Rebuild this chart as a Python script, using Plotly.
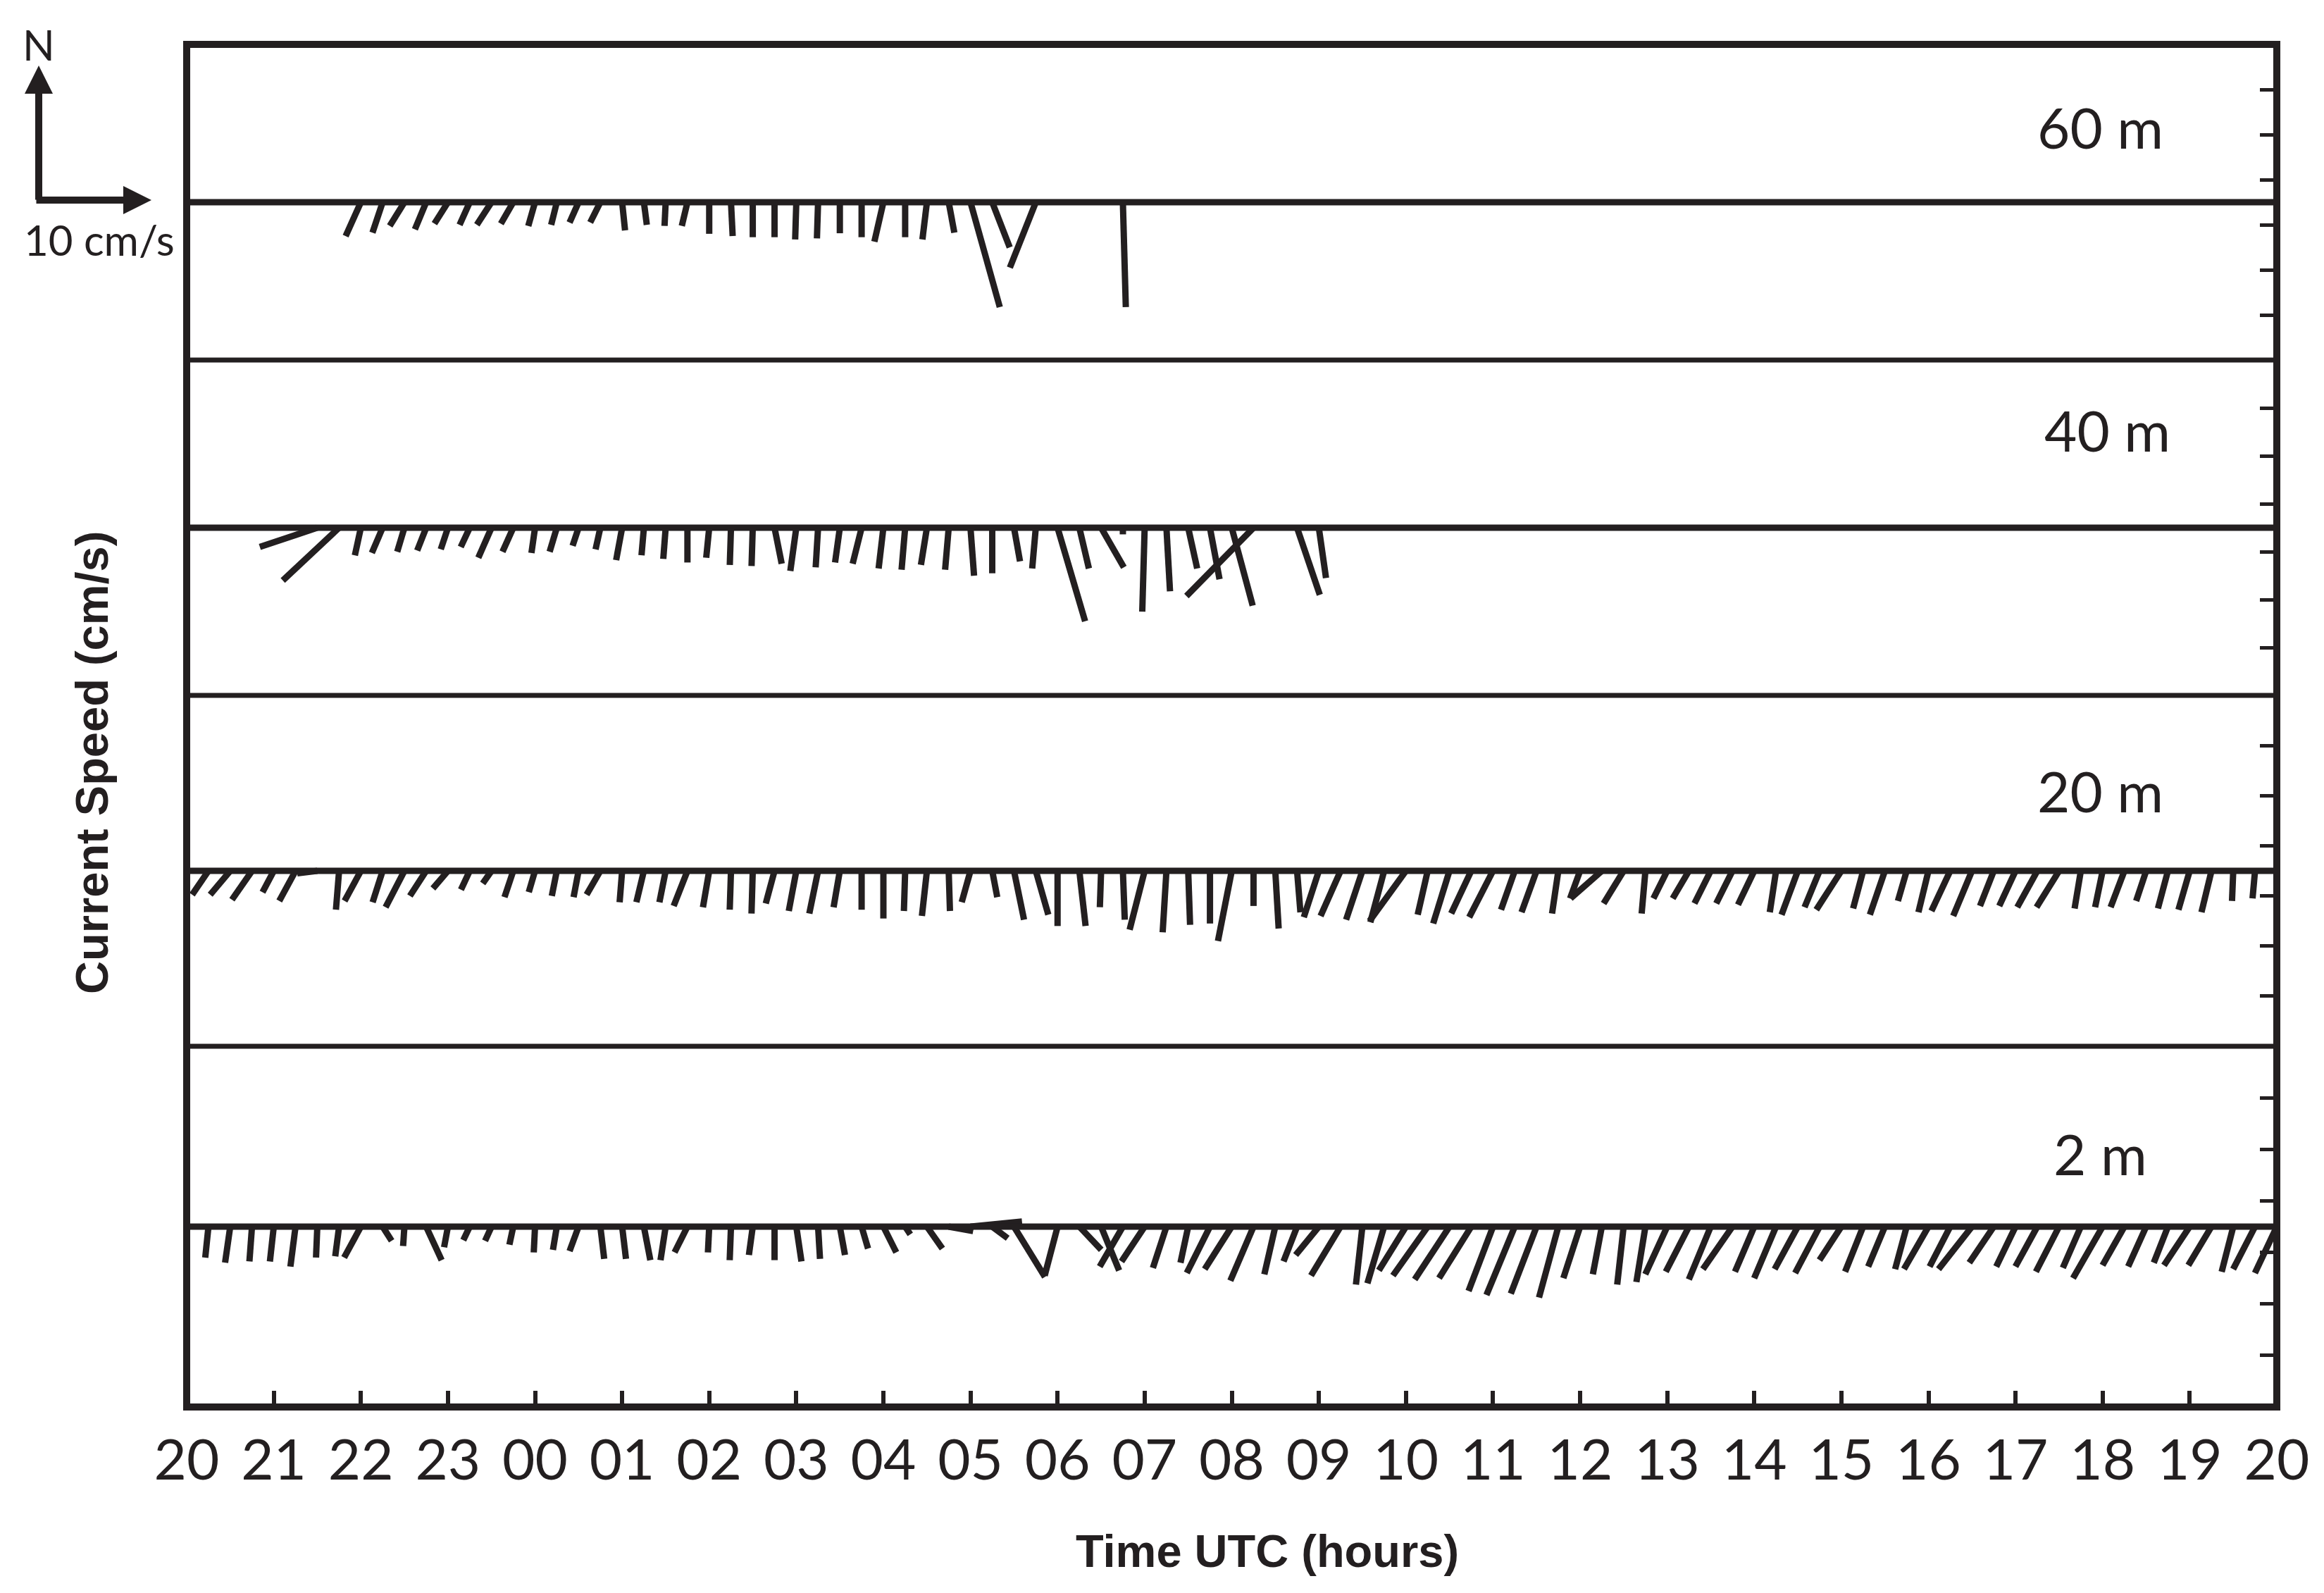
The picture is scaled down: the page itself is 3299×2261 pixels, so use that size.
import plotly.graph_objects as go

# --- Layout constants ---
# reference positions are page pixels; the page body has an 8 px margin
OFF = 8
W, H = 3299 - OFF, 2261 - OFF
ML, MR, MT, MB = 265 - OFF, 67, 63 - OFF, 264
PW, PH = W - ML - MR, H - MT - MB
INK = "#231f20"
FONT = "Lato, Open Sans, sans-serif"
BOLD_FONT = "Liberation Sans, Arial, sans-serif"

# --- Data ---
# time axis: hours after 20:00 UTC, tick labels
hour_ticks = list(range(25))
hour_labels = ["20", "21", "22", "23", "00", "01", "02", "03", "04", "05", "06", "07", "08",
               "09", "10", "11", "12", "13", "14", "15", "16", "17", "18", "19", "20"]
STEP = 0.25  # 15 min sampling

# 60 m  (first sample 22:00)
start_60 = 2.0
u_60 = [-1.35, -0.9, -1.3, -1.0, -1.2, -0.9, -1.3, -1.1, -0.6, -0.5, -0.8, -0.9,
        0.26, 0.26, -0.1, -0.5, 0.0, 0.15, 0.0, 0.0, -0.1, -0.1, 0.0, 0.0,
        -0.8, 0.0, -0.4, 0.5, 2.6, 1.55, None, -2.3, None, None, None, 0.26]
v_60 = [-3.0, -2.7, -2.1, -2.4, -1.9, -2.0, -2.0, -1.9, -2.1, -2.0, -1.8, -1.8,
        -2.5, -2.0, -2.1, -2.1, -2.8, -3.0, -3.1, -3.1, -3.3, -3.2, -2.75, -3.1,
        -3.5, -3.1, -3.3, -2.7, -9.3, -4.0, None, -5.8, None, None, None, -9.3]

# 40 m  (first sample 21:30)
start_40 = 1.5
u_40 = [-4.8, -4.7, -0.5, -0.9, -0.6, -0.75, -0.6, -0.75, -1.1, -0.9, -0.3, -0.6,
        -0.5, -0.4, -0.5, -0.2, -0.2, 0.0, -0.25, -0.1, -0.1, 0.6, -0.5, -0.2,
        -0.4, -0.75, -0.4, -0.3, -0.5, -0.3, 0.3, 0.0, 0.5, -0.3, 2.3, 0.8,
        1.9, 0.0, -0.2, 0.3, 0.75, 0.8, 1.75, -5.6, None, 1.9, 0.6]
v_40 = [-1.6, -4.4, -2.3, -2.1, -2.0, -1.9, -1.8, -1.6, -2.5, -2.0, -2.1, -2.0,
        -1.5, -1.8, -2.7, -2.3, -2.6, -2.9, -2.5, -3.1, -3.2, -3.0, -3.6, -3.3,
        -2.9, -3.0, -3.4, -3.5, -3.1, -3.5, -4.0, -3.8, -2.8, -3.4, -7.8, -3.4,
        -3.3, -0.55, -7.0, -5.3, -3.4, -4.3, -6.5, -5.7, None, -5.6, -4.2]

# 20 m  (first sample 20:00)
start_20 = 0.0
u_20 = [-0.2, -1.3, -1.6, -1.6, -0.9, -1.3, -1.6, -0.25, -1.3, -0.8, -1.5, -1.3,
        -1.2, -0.7, -0.7, -0.7, -0.5, -0.4, -0.4, -1.1, -0.2, -0.6, -0.5, -1.1,
        -0.5, -0.1, -0.1, -0.7, -0.6, -0.7, -0.5, 0.0, 0.0, -0.1, -0.4, 0.1,
        -0.7, 0.4, 0.8, 1.0, 0.0, 0.5, -0.1, 0.15, -1.2, -0.3, 0.15, 0.0,
        -1.1, 0.0, 0.27, 0.27, -1.2, -1.6, -1.3, -1.1, -2.9, -0.8, -1.3, -1.6,
        -1.9, -1.1, -1.2, -0.5, -0.8, -2.5, -1.6, -0.3, -1.1, -1.3, -1.3, -1.3,
        -1.3, -0.5, -1.3, -1.2, -2.0, -0.8, -1.2, -0.7, -0.8, -1.5, -1.5, -1.1,
        -1.3, -1.6, -1.8, -0.5, -0.6, -1.1, -0.8, -0.8, -0.9, -0.8, -0.1, -0.2]
v_20 = [-2.3, -1.9, -1.9, -2.3, -1.7, -2.4, -0.2, -3.1, -2.4, -2.5, -2.9, -2.0,
        -1.4, -1.5, -1.0, -2.1, -1.7, -2.0, -2.1, -1.9, -2.5, -2.5, -2.5, -2.8,
        -2.9, -3.1, -3.4, -2.6, -3.2, -3.4, -2.9, -3.1, -3.8, -3.2, -3.6, -3.2,
        -2.5, -2.1, -3.9, -3.5, -4.4, -4.4, -2.9, -3.9, -4.7, -4.9, -4.3, -4.2,
        -5.6, -2.8, -4.6, -3.3, -3.7, -3.6, -3.9, -4.1, -4.0, -3.5, -4.2, -3.4,
        -3.7, -3.1, -3.3, -3.4, -2.2, -2.2, -2.6, -3.4, -2.2, -2.2, -2.6, -2.6,
        -2.7, -3.3, -3.5, -2.9, -3.1, -3.0, -3.5, -2.4, -3.3, -3.2, -3.6, -2.8,
        -2.8, -2.9, -2.9, -3.0, -2.9, -2.9, -2.4, -3.0, -3.1, -3.3, -2.4, -2.2]

# 2 m  (first sample 20:00)
start_2 = 0.0
u_2 = [0.0, -0.25, -0.4, -0.2, -0.3, -0.4, -0.1, -0.3, -1.3, 0.7, -0.1, 1.2,
       -0.3, -0.5, -0.5, -0.3, -0.1, -0.3, -0.7, 0.3, 0.3, 0.5, -0.4, -1.0,
       -0.1, -0.1, -0.3, 0.0, 0.4, 0.15, 0.4, 0.5, 1.0, 0.4, 1.2, 1.9,
       4.0, 1.2, 2.4, None, -1.0, 1.7, 1.4, -1.8, -1.8, -1.05, -0.6, -1.8,
       -2.1, -1.8, -0.85, -1.05, -1.8, -2.3, -0.5, -1.3, -2.1, -2.7, -2.7, -2.5,
       -1.9, -2.2, -2.0, -1.5, -1.3, -0.7, -0.5, -0.7, -1.7, -1.8, -1.7, -2.3,
       -1.5, -1.7, -1.8, -1.9, -1.7, -1.4, -1.3, -0.9, -1.9, -1.6, -2.6, -1.9,
       -1.5, -1.7, -1.8, -1.4, -2.3, -1.7, -1.4, -1.1, -2.0, -1.8, -0.9, -1.7, -1.7]
v_2 = [-2.0, -2.4, -2.8, -2.7, -2.7, -3.1, -2.4, -2.3, -2.4, -1.1, -1.5, -2.6,
       -1.6, -1.05, -1.1, -1.4, -2.0, -1.8, -1.9, -2.5, -2.5, -2.6, -2.6, -2.0,
       -2.0, -2.6, -2.2, -2.6, -2.7, -2.5, -2.2, -1.7, -2.0, -0.6, -1.7, -0.35,
       0.4, -0.9, -3.9, None, -3.8, -1.8, -3.4, -3.1, -2.7, -3.2, -2.8, -3.6,
       -3.3, -4.2, -3.7, -2.7, -2.2, -3.8, -4.5, -4.4, -3.4, -3.8, -4.1, -4.0,
       -5.0, -5.3, -5.2, -5.5, -4.0, -3.7, -4.5, -4.3, -3.7, -3.5, -4.1, -3.3,
       -3.5, -4.0, -3.3, -3.6, -2.6, -3.5, -3.1, -3.3, -3.3, -3.1, -3.3, -2.8,
       -3.1, -3.1, -3.5, -3.2, -4.0, -3.0, -3.1, -2.8, -3.0, -3.0, -3.5, -3.3, -3.6]

# --- Panels: name, data, y axis, paper domain, label position ---
YR = 14  # cm/s half-range of each panel
panels = [
    ("2 m", start_2, u_2, v_2, "y", [0.0, 0.2647], 0.9155, 5.7),
    ("20 m", start_20, u_20, v_20, "y2", [0.2647, 0.5222], 0.9155, 6.4),
    ("40 m", start_40, u_40, v_40, "y3", [0.5222, 0.7683], 0.919, 8.2),
    ("60 m", start_60, u_60, v_60, "y4", [0.7683, 1.0], 0.9155, 6.7),
]


def px_x(x):
    return (x - OFF - ML) / PW


def px_y(y):
    return (H - MB - (y - OFF)) / PH


fig = go.Figure()
layout_axes = {}
shapes = []
annotations = []

for name, t0, u, v, yref, dom, label_x, label_y in panels:
    # hours per cm/s so that sticks keep their true direction on screen
    k = ((dom[1] - dom[0]) * PH / (2 * YR)) / (PW / 24.0)
    xs, ys = [], []
    for i, (uu, vv) in enumerate(zip(u, v)):
        if uu is None:
            continue
        t = t0 + STEP * i
        xs += [t, t + uu * k, None]
        ys += [0, vv, None]
    fig.add_trace(go.Scatter(x=xs, y=ys, mode="lines", xaxis="x", yaxis=yref,
                             line=dict(color=INK, width=9), hoverinfo="skip",
                             showlegend=False))
    key = "yaxis" if yref == "y" else "yaxis" + yref[1:]
    layout_axes[key] = dict(domain=dom, range=[-YR, YR], anchor="x", side="right",
                            ticks="inside", tickvals=[-10, -6, -2, 2, 6, 10],
                            ticklen=24, tickwidth=5, tickcolor=INK,
                            showticklabels=False, showgrid=False, zeroline=False,
                            showline=False, fixedrange=True)
    # baseline of the stick plot
    shapes.append(dict(type="line", xref="paper", yref=yref, x0=0, x1=1, y0=0, y1=0,
                       line=dict(color=INK, width=9)))
    if dom[0] > 0:
        shapes.append(dict(type="line", xref="paper", yref="paper", x0=0, x1=1,
                           y0=dom[0], y1=dom[0], line=dict(color=INK, width=7)))
    annotations.append(dict(text=name, xref="paper", yref=yref, x=label_x, y=label_y,
                            showarrow=False, xanchor="center", yanchor="middle",
                            font=dict(family=FONT, size=80, color=INK)))

# frame
shapes.append(dict(type="rect", xref="paper", yref="paper", x0=0, x1=1, y0=0, y1=1,
                   line=dict(color=INK, width=10)))

# north / scale legend and axis titles
annotations += [
    dict(text="N", xref="paper", yref="paper", x=px_x(55), y=px_y(63), showarrow=False,
         xanchor="center", yanchor="middle", font=dict(family=FONT, size=60, color=INK)),
    dict(text="10 cm/s", xref="paper", yref="paper", x=px_x(141), y=px_y(340),
         showarrow=False, xanchor="center", yanchor="middle",
         font=dict(family=FONT, size=60, color=INK)),
    dict(text="", xref="paper", yref="paper", x=px_x(55), y=px_y(93), ax=0, ay=192,
         showarrow=True, arrowhead=2, arrowsize=0.8, arrowwidth=10, arrowcolor=INK),
    dict(text="", xref="paper", yref="paper", x=px_x(215), y=px_y(284), ax=-165, ay=0,
         showarrow=True, arrowhead=2, arrowsize=0.8, arrowwidth=10, arrowcolor=INK),
    dict(text="<b>Time UTC (hours)</b>", xref="paper", yref="paper", x=px_x(1799),
         y=px_y(2201), showarrow=False, xanchor="center", yanchor="middle",
         font=dict(family=BOLD_FONT, size=65, color=INK)),
    dict(text="<b>Current Speed (cm/s)</b>", xref="paper", yref="paper", x=px_x(130),
         y=px_y(1083), showarrow=False, textangle=-90, xanchor="center",
         yanchor="middle", font=dict(family=BOLD_FONT, size=65, color=INK)),
]

fig.update_layout(
    width=W, height=H,
    margin=dict(l=ML, r=MR, t=MT, b=MB),
    paper_bgcolor="white", plot_bgcolor="white",
    showlegend=False,
    xaxis=dict(range=[0, 24], anchor="y", domain=[0, 1], tickvals=hour_ticks,
               ticktext=hour_labels, ticks="inside", ticklen=23, tickwidth=6,
               tickcolor=INK, ticklabelstandoff=22,
               tickfont=dict(family=FONT, size=80, color=INK),
               showgrid=False, zeroline=False, showline=False, fixedrange=True),
    shapes=shapes,
    annotations=annotations,
    **layout_axes,
)

fig.write_html("out.html")
